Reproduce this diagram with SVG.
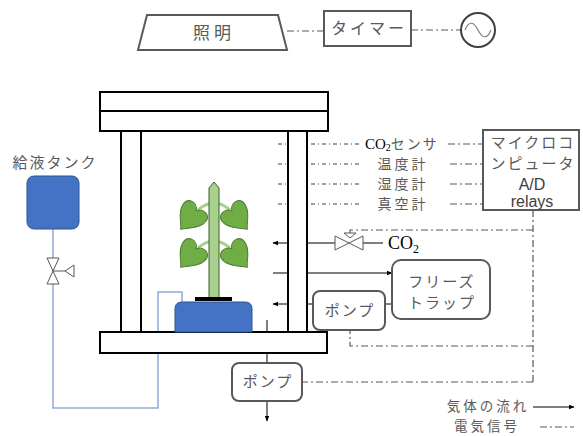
<svg xmlns="http://www.w3.org/2000/svg" width="583" height="436" viewBox="0 0 583 436">
  <defs>
    <style>
      .jp { font-family: "Noto Sans CJK JP", "Noto Sans", sans-serif; fill: #595959; font-size: 15px; letter-spacing: 2px; }
      .lat { font-family: "Liberation Sans", "Noto Sans", sans-serif; fill: #404040; font-size: 16px; }
      .box { fill: #ffffff; stroke: #595959; stroke-width: 2; }
      .frame { fill: #ffffff; stroke: #000000; stroke-width: 2; }
      .gas { fill: none; stroke: #000000; stroke-width: 1; }
      .sig { fill: none; stroke: #595959; stroke-width: 1.2; stroke-dasharray: 7 3 2 3; }
      .sens { fill: none; stroke: #404040; stroke-width: 1; stroke-dasharray: 4 3 1 3; }
      .pipe { fill: none; stroke: #8faadc; stroke-width: 1.5; }
      .valve { fill: #ffffff; stroke: #595959; stroke-width: 1; }
      .leaf { fill: #70ad47; stroke: #507e32; stroke-width: 1; }
    </style>
    <marker id="arr" viewBox="0 0 10 10" refX="9" refY="5" markerWidth="6" markerHeight="6" orient="auto-start-reverse">
      <path d="M0,1 L10,5 L0,9 Z" fill="#000000"/>
    </marker>
    <path id="heart" d="M0,-8 C-4,-16 -16,-14 -14,-3 C-12,6 -4,10 0,16 C4,10 12,6 14,-3 C16,-14 4,-16 0,-8 Z"/>
  </defs>

  <!-- connectors: gas flow, pipes and signal lines -->
  <g id="connectors">
    <!-- lighting circuit -->
    <line class="sig" x1="287" y1="31" x2="324" y2="31"/>
    <line class="sig" x1="411" y1="30" x2="461" y2="30"/>
    <!-- sensor lines -->
    <line class="sens" x1="278" y1="144" x2="360" y2="144"/>
    <line class="sens" x1="278" y1="164" x2="360" y2="164"/>
    <line class="sens" x1="278" y1="184" x2="360" y2="184"/>
    <line class="sens" x1="278" y1="204" x2="360" y2="204"/>
    <line class="sig" x1="448" y1="144" x2="483" y2="144"/>
    <line class="sig" x1="450" y1="164" x2="483" y2="164"/>
    <line class="sig" x1="450" y1="184" x2="483" y2="184"/>
    <line class="sig" x1="450" y1="204" x2="483" y2="204"/>
    <!-- control signals from microcomputer -->
    <path class="sig" d="M533,210 V382"/>
    <path class="sig" d="M533,230 H350 V236"/>
    <path class="sig" d="M533,346 H350 V330"/>
    <path class="sig" d="M533,382 H302"/>
    <!-- gas flow -->
    <line class="gas" x1="335" y1="243" x2="273" y2="243" marker-end="url(#arr)"/>
    <line class="gas" x1="363" y1="243" x2="383" y2="243"/>
    <line class="gas" x1="273" y1="273" x2="392" y2="273" marker-end="url(#arr)"/>
    <line class="gas" x1="313" y1="304" x2="273" y2="304" marker-end="url(#arr)"/>
    <line class="gas" x1="385" y1="304" x2="392" y2="304"/>
    <line class="gas" x1="267" y1="320" x2="267" y2="363"/>
    <line class="gas" x1="267" y1="401" x2="267" y2="421" marker-end="url(#arr)"/>
    <!-- nutrient supply pipe -->
    <path class="pipe" d="M53,229 V408 H158 V292 H182 V303"/>
  </g>

  <!-- lighting -->
  <g id="light">
    <path class="box" d="M147,15 H278 L287,50 H138 Z"/>
    <text class="jp" x="214" y="39" style="font-size:17px;letter-spacing:4px" text-anchor="middle">照明</text>
  </g>
  <g id="timer">
    <rect class="box" x="324" y="11" width="87" height="35"/>
    <text class="jp" x="369" y="34" style="font-size:16px;letter-spacing:3px" text-anchor="middle">タイマー</text>
  </g>
  <g id="ac">
    <circle cx="478" cy="30" r="17" fill="#ffffff" stroke="#404040" stroke-width="2"/>
    <path d="M465,30 C469,20 474,22 478,30 C482,38 487,40 491,30" fill="none" stroke="#7f7f7f" stroke-width="1.2"/>
  </g>

  <!-- growth chamber frame -->
  <g id="chamber">
    <rect class="frame" x="121" y="131" width="20" height="201"/>
    <rect class="frame" x="288" y="131" width="19" height="201"/>
    <rect class="frame" x="100" y="92" width="228" height="19"/>
    <rect class="frame" x="100" y="111" width="228" height="20"/>
    <rect class="frame" x="100" y="332" width="227" height="21"/>
  </g>

  <!-- plant -->
  <g id="plant">
    <path d="M198,210 Q214,196 230,210" fill="none" stroke="#a9d18e" stroke-width="3"/>
    <path d="M198,248 Q214,234 230,248" fill="none" stroke="#a9d18e" stroke-width="3"/>
    <use href="#heart" class="leaf" transform="translate(191,217) rotate(40)"/>
    <use href="#heart" class="leaf" transform="translate(237,217) rotate(-40)"/>
    <use href="#heart" class="leaf" transform="translate(191,255) rotate(40)"/>
    <use href="#heart" class="leaf" transform="translate(237,255) rotate(-40)"/>
    <path d="M209,188 L214,182 L219,188 V298 H209 Z" fill="#a9d18e" stroke="#3a5a2a" stroke-width="1"/>
  </g>
  <g id="pot">
    <rect x="195" y="297" width="37" height="4" fill="#000000"/>
    <path d="M182,302 H245 Q252,302 252,309 V332 H175 V309 Q175,302 182,302 Z" fill="#4472c4" stroke="#2f528f" stroke-width="1"/>
  </g>

  <!-- nutrient tank -->
  <g id="tank">
    <text class="jp" x="55" y="168" text-anchor="middle">給液タンク</text>
    <rect x="27" y="176" width="52" height="53" rx="7" fill="#4472c4" stroke="#2f528f" stroke-width="1"/>
  </g>
  <g id="tank-valve">
    <path class="valve" d="M47,258 H59 L47,284 H59 Z"/>
    <line x1="53" y1="271" x2="65" y2="271" stroke="#595959" stroke-width="1"/>
    <path class="valve" d="M65,271 L74,265 V277 Z"/>
  </g>

  <!-- CO2 supply -->
  <g id="co2-valve">
    <path class="valve" d="M335,236 V250 L363,236 V250 Z"/>
    <path class="valve" d="M344,233 H356 L350,238 Z"/>
  </g>
  <g id="co2">
    <text x="388" y="249" font-family="Liberation Serif, serif" font-size="18" fill="#000000">CO<tspan font-size="12" dy="4">2</tspan></text>
  </g>

  <!-- sensors -->
  <g id="sensors">
    <text x="365" y="149"><tspan font-family="Liberation Serif, serif" font-size="15" fill="#000000">CO</tspan><tspan font-family="Liberation Serif, serif" fill="#000000" font-size="10" dy="2">2</tspan><tspan class="jp" dy="-2" style="font-size:14px;letter-spacing:2px">センサ</tspan></text>
    <text class="jp" x="403" y="169" style="font-size:14px;letter-spacing:3px" text-anchor="middle">温度計</text>
    <text class="jp" x="403" y="189" style="font-size:14px;letter-spacing:3px" text-anchor="middle">湿度計</text>
    <text class="jp" x="403" y="209" style="font-size:14px;letter-spacing:3px" text-anchor="middle">真空計</text>
  </g>

  <!-- microcomputer -->
  <g id="microcomputer">
    <rect class="box" x="483" y="130" width="96" height="80"/>
    <text class="jp" x="533" y="148" text-anchor="middle">マイクロコ</text>
    <text class="jp" x="533" y="169" text-anchor="middle">ンピュータ</text>
    <text class="lat" x="532" y="190" text-anchor="middle">A/D</text>
    <text class="lat" x="532" y="207" text-anchor="middle">relays</text>
  </g>

  <!-- freeze trap and pumps -->
  <g id="freeze-trap">
    <rect class="box" x="392" y="260" width="98" height="59" rx="9"/>
    <text class="jp" x="442" y="287" text-anchor="middle">フリーズ</text>
    <text class="jp" x="442" y="308" text-anchor="middle">トラップ</text>
  </g>
  <g id="pump-upper">
    <rect class="box" x="313" y="291" width="72" height="39" rx="7"/>
    <text class="jp" x="350" y="316" text-anchor="middle">ポンプ</text>
  </g>
  <g id="pump-lower">
    <rect class="box" x="232" y="363" width="70" height="38" rx="7"/>
    <text class="jp" x="268" y="387" text-anchor="middle">ポンプ</text>
  </g>

  <!-- legend -->
  <g id="legend">
    <text class="jp" x="488" y="411" style="font-size:13.5px;letter-spacing:3px" text-anchor="middle">気体の流れ</text>
    <line class="gas" x1="533" y1="407" x2="574" y2="407" marker-end="url(#arr)"/>
    <text class="jp" x="487" y="431" style="font-size:13.5px;letter-spacing:3px" text-anchor="middle">電気信号</text>
    <line class="sig" x1="540" y1="427" x2="574" y2="427"/>
  </g>
</svg>
